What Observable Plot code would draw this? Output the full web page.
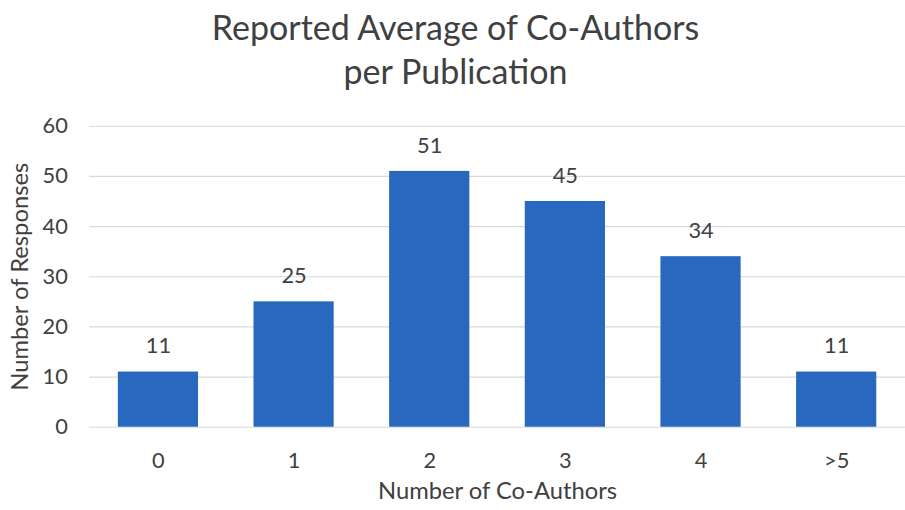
<!DOCTYPE html>
<html>
<head>
<meta charset="utf-8">
<script src="https://cdn.jsdelivr.net/npm/d3@7"></script>
<script src="https://cdn.jsdelivr.net/npm/@observablehq/plot@0.6"></script>
<style>
  html, body { margin: 0; padding: 0; background: #fff; overflow: hidden; width: 905px; height: 510px; }
  #title { width: 905px; height: 100px; box-sizing: border-box; padding-top: 5px; text-align: center;
    font-family: Lato, "Open Sans", sans-serif; font-size: 34px; line-height: 44px; color: #404040; padding-left: 6px; }
  #chart svg { display: block; }
</style>
</head>
<body>
<div id="title">Reported Average of Co-Authors<br>per Publication</div>
<div id="chart"></div>
<script>
const categories = ["0", "1", "2", "3", "4", ">5"];
const responses = [11, 25, 51, 45, 34, 11];
const yTicks = [0, 10, 20, 30, 40, 50, 60];
const xTitle = "Number of Co-Authors";
const yTitle = "Number of Responses";

const data = categories.map((c, i) => ({category: c, value: responses[i]}));
const textColor = "#404040";

const chart = Plot.plot({
  width: 914,
  height: 410,
  marginLeft: 90,
  marginRight: 0,
  marginTop: 26,
  marginBottom: 80,
  style: {fontFamily: "Lato, 'Open Sans', sans-serif", fontSize: "22px", color: textColor, background: "transparent"},
  x: {domain: categories, paddingInner: 0.41, paddingOuter: 0.205, label: null},
  y: {domain: [0, 60], label: null},
  marks: [
    Plot.gridY(yTicks, {stroke: "#d9d9d9", strokeOpacity: 1, strokeWidth: 1.2}),
    Plot.barY(data, {x: "category", y: "value", fill: "#2968bf"}),
    Plot.text(data, {x: "category", y: "value", text: d => String(d.value), dy: -26, fill: textColor, fontSize: 22}),
    Plot.axisY(yTicks, {tickSize: 0, tickPadding: 22, fontSize: 22, fill: textColor, label: null}),
    Plot.axisX({tickSize: 0, tickPadding: 26, fontSize: 22, fill: textColor, label: null}),
    Plot.text([yTitle], {frameAnchor: "left", rotate: -90, dx: -70, textAnchor: "middle", lineAnchor: "middle", fontSize: 24, fill: textColor}),
    Plot.text([xTitle], {frameAnchor: "bottom", dy: 65, textAnchor: "middle", lineAnchor: "middle", fontSize: 24, fill: textColor}),
  ]
});
document.getElementById("chart").appendChild(chart);
</script>
</body>
</html>
